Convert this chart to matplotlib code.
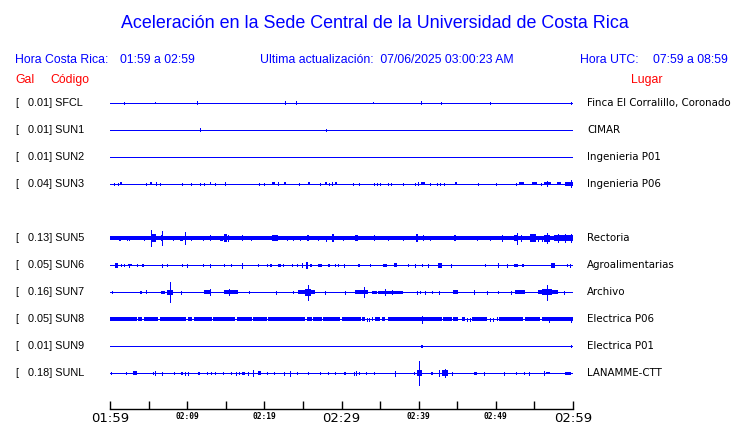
import matplotlib
matplotlib.use("Agg")
import matplotlib.pyplot as plt

# Estaciones, aceleracion maxima (Gal) y lugar
CODES = ["SFCL", "SUN1", "SUN2", "SUN3", "SUN5", "SUN6", "SUN7", "SUN8", "SUN9", "SUNL"]
GAL = [0.01, 0.01, 0.01, 0.04, 0.13, 0.05, 0.16, 0.05, 0.01, 0.18]
PLACES = ["Finca El Corralillo, Coronado", "CIMAR", "Ingenieria P01", "Ingenieria P06",
          "Rectoria", "Agroalimentarias", "Archivo", "Electrica P06", "Electrica P01",
          "LANAMME-CTT"]
SLOTS = [0, 1, 2, 3, 5, 6, 7, 8, 9, 10]   # SUN4 sin datos

TICK_MIN = list(range(0, 61, 5))
TICK_LABELS = ["01:59", "", "02:09", "", "02:19", "", "02:29", "", "02:39", "", "02:49", "", "02:59"]

# eventos: (minuto inicio, minuto fin, amplitud relativa)
SFCL_EV = [(1.86, 1.86, 1), (5.85, 5.98, 1.2), (11.32, 11.32, 1.5), (22.72, 22.72, 1.5),
           (24.15, 24.15, 1.5), (34.1, 34.25, 1.3), (40.35, 40.35, 1.5), (42.94, 42.94, 1),
           (49.2, 49.2, 1), (59.78, 59.78, 1)]
SUN1_EV = [(11.62, 11.62, 1.5), (27.95, 28.1, 1.5)]
SUN2_EV = []
SUN3_EV = [(0.56, 0.56, 1), (1.08, 1.08, 1), (1.3, 1.55, 1.5), (4.62, 4.62, 1), (5.2, 5.4, 1.5),
           (5.92, 5.92, 1.5), (6.52, 6.52, 0.5), (9.29, 9.29, 1), (10.5, 10.5, 1), (11.62, 11.62, 0.5),
           (12.14, 12.14, 1), (12.9, 13.1, 1.5), (13.61, 13.61, 1), (14.9, 14.9, 1.5), (19.31, 19.31, 1),
           (20.0, 20.0, 1), (20.95, 21.38, 1.5), (21.73, 21.73, 1.5), (22.59, 22.81, 1.5),
           (24.54, 24.54, 1), (25.7, 25.96, 1.5), (27.21, 27.21, 1), (27.86, 28.1, 1.5),
           (28.38, 28.38, 1), (28.73, 28.73, 1.5), (29.2, 29.4, 1.5), (31.53, 31.53, 1),
           (32.31, 32.31, 1), (34.25, 34.25, 1), (34.6, 34.6, 1), (35.03, 35.03, 1), (35.98, 35.98, 1),
           (36.41, 36.41, 1), (38.01, 38.01, 1), (39.52, 39.52, 1), (39.87, 39.87, 1.5),
           (40.35, 40.82, 1.5), (41.47, 41.47, 1), (42.33, 42.33, 1), (42.72, 42.72, 0.5),
           (43.24, 43.24, 1), (44.71, 44.97, 1.5), (47.73, 47.73, 1), (49.98, 49.98, 1),
           (52.57, 52.57, 1), (53.0, 53.61, 1.5), (54.64, 55.33, 1.5), (55.85, 55.85, 0.5),
           (56.29, 57.15, 1.5), (56.6, 56.6, 2.5), (57.93, 58.44, 1.5), (58.96, 60.0, 1.8),
           (59.74, 59.74, 3.5)]
SUN5_BAND = [(0.0, 60.0, 2.0)]
SUN5_EV = [(1.2, 1.4, 2.5), (2.16, 2.16, 2), (2.46, 2.46, 2), (4.45, 4.45, 1.5), (4.6, 4.8, 2),
           (5.31, 5.31, 8), (5.5, 6.0, 4), (6.7, 6.7, 7), (6.6, 6.9, 3), (8.21, 8.21, 2),
           (9.1, 9.4, 2.5), (9.72, 9.72, 6), (10.5, 10.5, 2), (12.1, 12.1, 1.8), (12.9, 13.1, 3),
           (14.25, 14.7, 2.5), (14.8, 15.1, 4), (15.3, 15.4, 3), (15.77, 16.41, 2.2),
           (17.05, 17.25, 3), (18.27, 18.27, 2), (19.0, 19.44, 2.2), (20.95, 21.81, 3),
           (22.89, 22.89, 2), (23.76, 23.76, 2), (24.62, 24.62, 2), (25.49, 25.79, 3),
           (27.0, 27.0, 2), (27.95, 27.95, 2.5), (28.8, 29.0, 4), (30.24, 30.24, 2),
           (31.75, 32.18, 3), (34.2, 34.35, 3), (35.98, 35.98, 2), (37.95, 38.1, 2.5),
           (39.6, 39.9, 4), (40.5, 40.7, 3), (41.47, 41.47, 2), (42.98, 43.41, 2.2),
           (44.6, 44.8, 3), (47.52, 47.52, 1.8), (49.24, 49.24, 1.8), (50.76, 50.76, 3),
           (52.4, 52.9, 3), (52.7, 52.7, 5.5), (53.26, 53.26, 3), (54.4, 55.2, 4), (55.51, 55.51, 2.5),
           (55.94, 55.94, 2.5), (56.2, 57.0, 3.5), (56.59, 56.59, 5), (57.5, 60.0, 3),
           (58.0, 58.0, 4), (59.0, 59.0, 4), (59.8, 59.8, 4)]
SUN6_EV = [(0.65, 0.99, 2.5), (1.43, 1.43, 1), (1.86, 1.86, 1), (2.29, 2.81, 1), (2.5, 2.5, 1.5),
           (3.54, 3.54, 1), (4.19, 4.36, 1.5), (6.7, 6.7, 1.5), (7.34, 7.34, 1), (9.29, 9.29, 1),
           (9.94, 9.94, 1.5), (12.1, 12.1, 1), (12.96, 12.96, 1.5), (14.82, 14.82, 1),
           (15.68, 15.68, 1), (17.06, 17.06, 2.5), (19.14, 19.14, 1), (20.3, 20.3, 1),
           (20.73, 20.95, 1.5), (21.81, 22.16, 1.5), (22.46, 22.46, 1), (23.54, 23.54, 1),
           (24.19, 24.19, 1), (24.84, 24.84, 2), (25.35, 25.6, 3.5), (25.96, 26.22, 1.5),
           (27.0, 27.52, 1.5), (28.21, 28.47, 1.5), (29.16, 29.16, 1), (29.59, 29.59, 1),
           (30.28, 30.28, 1.5), (32.1, 32.44, 1.5), (33.69, 33.69, 1), (35.42, 35.85, 1.5),
           (36.76, 37.19, 2), (38.57, 38.57, 1), (39.52, 39.52, 1.5), (40.39, 40.39, 1),
           (41.17, 41.17, 1.5), (42.55, 42.98, 2.5), (44.19, 44.19, 1.5), (48.6, 48.6, 1),
           (50.24, 50.24, 2), (51.4, 51.4, 1.5), (52.4, 52.92, 1.5), (53.43, 53.69, 1.5),
           (57.15, 57.67, 2.5), (59.18, 59.18, 1), (59.61, 59.61, 1.5), (60.0, 60.0, 1)]
SUN7_EV = [(0.22, 0.22, 0.7), (3.89, 4.19, 1.5), (4.62, 4.8, 2), (6.61, 7.13, 1.5), (7.34, 8.21, 2.5),
           (7.73, 7.73, 10), (9.2, 9.2, 1.5), (12.22, 13.09, 2), (13.0, 13.0, 3), (14.82, 16.55, 2),
           (15.42, 15.42, 3), (18.01, 18.01, 0.7), (21.47, 21.47, 1.5), (23.76, 23.76, 1),
           (24.4, 26.6, 2.2), (25.3, 26.0, 3.5), (25.7, 25.7, 7.5), (27.86, 27.86, 1.5),
           (30.45, 30.45, 1.5), (31.75, 33.48, 2), (32.96, 32.96, 5), (33.91, 34.56, 1.5),
           (34.77, 38.01, 1.5), (35.64, 35.64, 3), (36.5, 36.5, 2), (39.74, 39.74, 1.5),
           (40.17, 40.17, 1), (40.82, 40.82, 1.5), (41.68, 41.68, 1), (42.68, 42.68, 1.5),
           (44.49, 45.14, 2), (47.21, 47.21, 2), (48.81, 48.81, 1.5), (50.24, 50.24, 0.7),
           (51.97, 51.97, 1.5), (52.48, 53.78, 2), (55.51, 58.1, 2), (55.94, 57.24, 3),
           (56.59, 56.59, 7.5), (58.88, 58.88, 1.5), (60.0, 60.0, 1.5)]
SUN8_BAND = [(0.0, 3.46, 1.8), (3.67, 4.19, 1.8), (4.36, 6.26, 1.8), (6.48, 9.81, 1.8),
             (10.06, 10.67, 1.8), (10.93, 13.17, 1.8), (13.39, 16.2, 1.8), (16.46, 18.36, 1.8),
             (18.57, 20.3, 1.8), (20.52, 25.27, 1.8), (25.49, 26.13, 1.8), (26.35, 27.43, 1.8),
             (27.65, 29.81, 1.8), (30.11, 32.53, 1.8), (32.7, 33.05, 1.8), (33.91, 34.13, 1.8),
             (34.34, 35.03, 1.8), (35.21, 35.64, 1.8), (35.98, 42.98, 1.8), (43.2, 44.28, 1.8),
             (44.49, 45.14, 1.8), (45.57, 46.0, 1.8), (46.87, 48.81, 1.8), (50.11, 50.32, 1.8),
             (50.45, 53.56, 1.8), (53.78, 55.72, 1.8), (55.94, 60.0, 1.8)]
SUN8_EV = [(33.3, 33.3, 1.5), (33.6, 33.6, 1.5), (46.3, 46.3, 1.5), (46.6, 46.6, 1.5),
           (49.2, 49.2, 1.5), (49.6, 49.6, 1.5), (40.47, 40.47, 3.5), (56.89, 56.89, 2.5),
           (59.8, 59.8, 2.5)]
SUN9_EV = [(40.35, 40.6, 1.5), (59.78, 59.78, 1)]
SUNL_EV = [(0.13, 0.13, 0.7), (2.03, 2.03, 1), (3.02, 3.5, 2), (5.62, 5.62, 1), (5.83, 5.83, 2),
           (6.7, 6.7, 1.5), (8.34, 8.34, 0.5), (9.2, 9.46, 1.5), (9.72, 9.72, 1.5), (10.06, 10.06, 1.5),
           (11.36, 11.36, 1), (11.58, 11.58, 1), (12.53, 12.53, 1), (13.09, 13.09, 1), (13.61, 13.61, 1),
           (14.69, 14.69, 1), (15.68, 15.68, 1), (16.29, 16.29, 1.5), (16.72, 16.72, 1),
           (17.15, 17.49, 1.5), (17.84, 17.84, 1.5), (18.57, 18.57, 3), (19.22, 19.57, 2),
           (20.3, 20.3, 1), (21.3, 21.3, 1), (22.59, 22.59, 1.5), (23.37, 23.37, 2.5),
           (24.19, 24.19, 1), (25.7, 25.7, 0.5), (27.21, 27.21, 1), (28.21, 28.21, 1),
           (29.16, 29.16, 0.5), (30.37, 30.63, 1.5), (31.66, 31.66, 1.5), (31.84, 31.84, 2),
           (32.27, 32.27, 1), (33.13, 33.13, 1), (34.25, 34.25, 1), (36.93, 36.93, 2.5),
           (39.44, 39.44, 1), (39.78, 40.39, 3), (40.04, 40.04, 12), (41.6, 41.86, 1.5),
           (42.64, 42.64, 3), (43.07, 43.84, 3), (43.41, 43.41, 4), (44.36, 44.36, 1.5),
           (47.21, 47.52, 1.5), (48.51, 48.51, 1.5), (51.1, 51.1, 1.5), (52.57, 52.57, 1),
           (53.69, 53.69, 1), (54.3, 54.3, 1.5), (56.29, 56.29, 2), (56.46, 56.98, 1),
           (58.96, 59.74, 1.5), (60.0, 60.0, 1)]

EVENTS = [SFCL_EV, SUN1_EV, SUN2_EV, SUN3_EV, SUN5_EV + SUN5_BAND, SUN6_EV, SUN7_EV,
          SUN8_EV + SUN8_BAND, SUN9_EV, SUNL_EV]

W, H = 740, 423
BLUE = "#0000ff"
PX = 72 / 100              # 1 px en puntos
TOP, STEP = 103, 27        # fila de la primera traza y separacion (px)
AX_L, AX_R, AX_T, AX_B = 110, 573, 90, 409


def fx(px):
    return px / W


def fy(py):
    return 1 - py / H


fig = plt.figure(figsize=(W / 100, H / 100), dpi=100)
ax = fig.add_axes([fx(AX_L), fy(AX_B), (AX_R - AX_L) / W, (AX_B - AX_T) / H])
ax.set_xlim(0, 60)
ax.set_ylim(AX_B, AX_T)   # eje y en px desde arriba

for slot, ev in zip(SLOTS, EVENTS):
    base = TOP + STEP * slot
    ax.hlines(base, 0, 60, color=BLUE, linewidth=PX, antialiased=False)
    spikes = [(t0, amp) for t0, t1, amp in ev if t1 - t0 < 0.1]
    blocks = [(t0, t1, amp) for t0, t1, amp in ev if t1 - t0 >= 0.1]
    if spikes:
        ts = [s[0] for s in spikes]
        am = [max(s[1], 1.0) for s in spikes]
        ax.vlines(ts, [base - a for a in am], [base + a for a in am], color=BLUE,
                  linewidth=PX, antialiased=False)
    for t0, t1, amp in blocks:
        ax.bar((t0 + t1) / 2, 2 * amp, width=t1 - t0, bottom=base - amp, color=BLUE,
               linewidth=0, antialiased=False)

for s in ["top", "left", "right"]:
    ax.spines[s].set_visible(False)
ax.spines["bottom"].set_linewidth(1)
ax.set_yticks([])
ax.set_xticks(TICK_MIN)
ax.set_xticklabels(TICK_LABELS)
ax.tick_params(axis="x", direction="in", length=6, width=1, pad=1.8)
for i, lab in enumerate(ax.get_xticklabels()):
    if TICK_LABELS[i] in ("01:59", "02:29", "02:59"):
        lab.set_fontfamily("DejaVu Sans")
        lab.set_fontsize(9.5)
    else:
        lab.set_fontfamily("DejaVu Sans Mono")
        lab.set_fontweight("bold")
        lab.set_fontsize(5.7)

SANS = "Liberation Sans"
fig.text(fx(375), fy(23), "Aceleración en la Sede Central de la Universidad de Costa Rica",
         ha="center", va="center", color=BLUE, fontsize=12.9, family=SANS)
fig.text(fx(15), fy(60), "Hora Costa Rica:", va="center", color=BLUE, fontsize=8.8, family=SANS)
fig.text(fx(120), fy(60), "01:59 a 02:59", va="center", color=BLUE, fontsize=8.8, family=SANS)
fig.text(fx(260), fy(60), "Ultima actualización:  07/06/2025 03:00:23 AM", va="center",
         color=BLUE, fontsize=8.8, family=SANS)
fig.text(fx(580), fy(60), "Hora UTC:", va="center", color=BLUE, fontsize=8.8, family=SANS)
fig.text(fx(653), fy(60), "07:59 a 08:59", va="center", color=BLUE, fontsize=8.8, family=SANS)
fig.text(fx(15), fy(80), "Gal", va="center", color="red", fontsize=8.8, family=SANS)
fig.text(fx(50), fy(80), "Código", va="center", color="red", fontsize=8.8, family=SANS)
fig.text(fx(631), fy(80), "Lugar", va="center", color="red", fontsize=8.8, family=SANS)

for slot, code, gal, place in zip(SLOTS, CODES, GAL, PLACES):
    y = TOP + STEP * slot
    fig.text(fx(15), fy(y), "[", va="center", fontsize=7.8, family=SANS)
    fig.text(fx(28), fy(y), f"{gal:.2f}] {code}", va="center", fontsize=7.8, family=SANS)
    fig.text(fx(587), fy(y), place, va="center", fontsize=7.4, family="DejaVu Sans")

fig.savefig("out.png", dpi=100)
